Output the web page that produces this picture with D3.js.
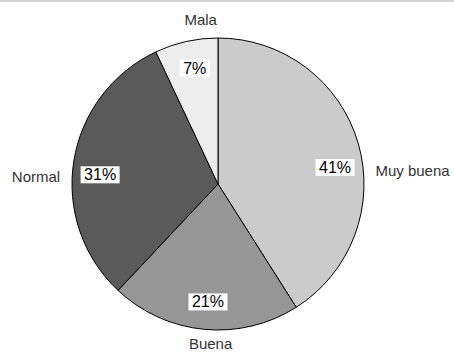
<!DOCTYPE html>
<html>
<head>
<meta charset="utf-8">
<script src="https://cdn.jsdelivr.net/npm/d3@7"></script>
<style>
  body { margin: 0; background: #fff; }
  svg { display: block; font-family: "Liberation Sans", Arial, Helvetica, sans-serif; }
</style>
</head>
<body>
<div id="chart"></div>
<script>
// categories in clockwise order from 12 o'clock
var categories = ["Muy buena", "Buena", "Normal", "Mala"];
var shares = [41, 21, 31, 7];
var sliceColors = ["#cbcbcb", "#969696", "#5a5a5a", "#ededed"];

var width = 454, height = 355;
var cx = 218, cy = 184, radius = 146;

var svg = d3.select("#chart").append("svg")
  .attr("width", width)
  .attr("height", height);

// thin grey rule along the top
svg.append("rect")
  .attr("x", 0).attr("y", 0)
  .attr("width", width).attr("height", 2)
  .attr("fill", "#d0d0d0");

var data = categories.map(function (c, i) {
  return { name: c, value: shares[i], color: sliceColors[i] };
});

var pie = d3.pie().sort(null).value(function (d) { return d.value; });
var arcs = pie(data);

var arc = d3.arc().innerRadius(0).outerRadius(radius);

var g = svg.append("g").attr("transform", "translate(" + cx + "," + cy + ")");

g.selectAll("path.slice")
  .data(arcs)
  .enter().append("path")
    .attr("class", "slice")
    .attr("d", arc)
    .attr("fill", function (d) { return d.data.color; })
    .attr("stroke", "#000")
    .attr("stroke-width", 1);

// label angle: mid angle, pulled toward the nearest axis
// (kSide for left/right axes, kVert for top/bottom)
var labelAngle = function (d, kSide, kVert) {
  var mid = (d.startAngle + d.endAngle) / 2;
  var q = Math.round(mid / (Math.PI / 2));
  var axis = q * (Math.PI / 2);
  var k = (q % 2 === 1) ? kSide : kVert;
  return axis + k * (mid - axis);
};

// percentage labels on white boxes
arcs.forEach(function (d) {
  var a = labelAngle(d, 0.5, 0.9);
  var r = radius * 0.81;
  var x = r * Math.sin(a), y = -r * Math.cos(a);
  var lab = g.append("g").attr("transform", "translate(" + x + "," + y + ")");
  var t = lab.append("text")
    .attr("text-anchor", "middle")
    .attr("dy", "0.35em")
    .style("font-size", "16px")
    .attr("fill", "#000")
    .text(d.data.value + "%");
  var bb = t.node().getBBox();
  lab.insert("rect", "text")
    .attr("x", bb.x - 3.5)
    .attr("y", bb.y)
    .attr("width", bb.width + 7)
    .attr("height", bb.height)
    .attr("fill", "#fff");
});

// category names outside the pie
arcs.forEach(function (d) {
  var a = labelAngle(d, 0.3, 0.5);
  var s = Math.sin(a), c = Math.cos(a);
  var r = radius + 12;
  var anchor = s > 0.5 ? "start" : (s < -0.5 ? "end" : "middle");
  var x = r * s, y = -r * c;
  var dy = "0.35em";
  if (anchor === "middle") {
    dy = c > 0 ? "-0.1em" : "0.5em";
  }
  g.append("text")
    .attr("x", x)
    .attr("y", y)
    .attr("dy", dy)
    .attr("text-anchor", anchor)
    .style("font-size", "15px")
    .attr("fill", "#333")
    .text(d.data.name);
});
</script>
</body>
</html>
